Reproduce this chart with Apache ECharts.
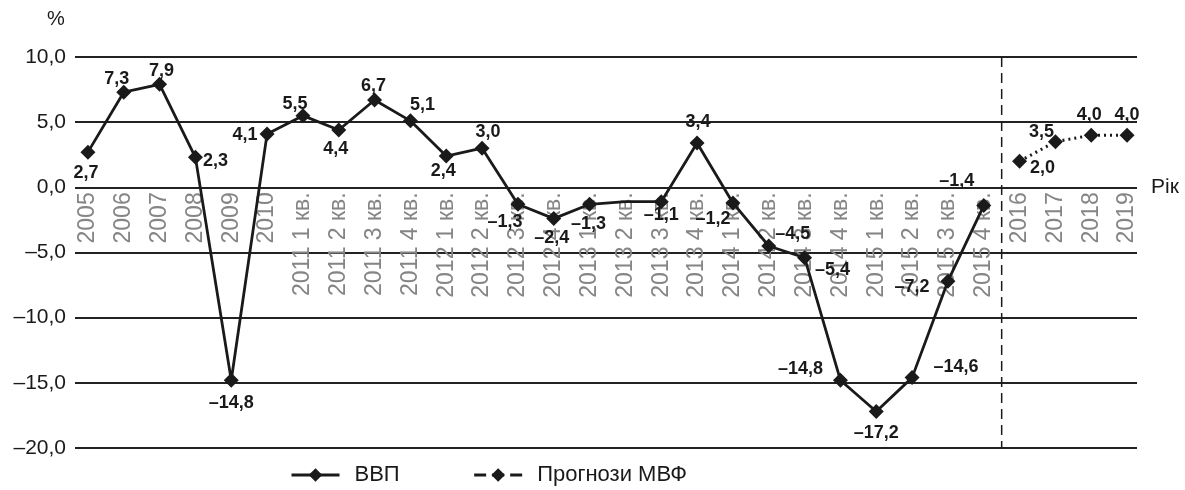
<!DOCTYPE html>
<html><head><meta charset="utf-8">
<script src="https://cdn.jsdelivr.net/npm/echarts@6/dist/echarts.min.js"></script>
<style>html,body{margin:0;padding:0;background:#fff}#c{width:1185px;height:490px}</style>
</head><body><div id="c"></div>
<script>
// ---- data ----
const categories = ['2005','2006','2007','2008','2009','2010',
  '2011 1 кв.','2011 2 кв.','2011 3 кв.','2011 4 кв.',
  '2012 1 кв.','2012 2 кв.','2012 3 кв.','2012 4 кв.',
  '2013 1 кв.','2013 2 кв.','2013 3 кв.','2013 4 кв.',
  '2014 1 кв.','2014 2 кв.','2014 3 кв.','2014 4 кв.',
  '2015 1 кв.','2015 2 кв.','2015 3 кв.','2015 4 кв.',
  '2016','2017','2018','2019'];
const gdp = [2.7,7.3,7.9,2.3,-14.8,4.1,5.5,4.4,6.7,5.1,2.4,3.0,-1.3,-2.4,-1.3,-1.1,-1.1,3.4,-1.2,-4.5,-5.4,-14.8,-17.2,-14.6,-7.2,-1.4];
const imf = [2.0,3.5,4.0,4.0];
const yMin = -20, yMax = 10, yStep = 5;
const seriesNames = ['ВВП','Прогнози МВФ'];

// ---- layout (label offsets relative to marker centre) ----
const gdpLabelOffset = [[-2,21],[-7,-13],[2,-13],[20,4],[0,23],[-22,1],[-8,-12],[-3,19],[-1,-14],[12,-16],
  [-3,15],[6,-16],[-13,18],[-2,19],[-1,20],[-6,10],[0,13],[1,-21],[-20,16],[24,-12],
  [28,12],[-40,-11],[0,22],[44,-11],[-36,6],[-27,-25]];
const imfLabelOffset = [[23,7],[-14,-10],[-2,-20],[0,-20]];
const hiddenMarker = [15];

const fmt = v => v.toFixed(1).replace('.', ',').replace('-', '–');
const FONT = 'Liberation Sans, Arial, sans-serif';
const INK = '#1a1a1a';

const gdpData = categories.map((c, i) => {
  if (i >= gdp.length) return null;
  const item = { value: gdp[i], label: { offset: gdpLabelOffset[i] } };
  if (hiddenMarker.includes(i)) item.symbol = 'none';
  return item;
});
const imfData = categories.map((c, i) => {
  const j = i - gdp.length;
  if (j < 0) return null;
  return { value: imf[j], label: { offset: imfLabelOffset[j] } };
});

const labelStyle = {
  show: true, position: 'inside', formatter: p => fmt(p.value),
  fontFamily: FONT, fontSize: 18, fontWeight: 'bold', color: INK
};

const chart = echarts.init(document.getElementById('c'), null, { renderer: 'canvas' });
chart.setOption({
  animation: false,
  backgroundColor: '#fff',
  grid: [
    { left: 75, right: 48, top: 57, bottom: 42, outerBoundsMode: 'none', containLabel: false },
    { left: 70, right: 40, top: 57, bottom: 42, outerBoundsMode: 'none', containLabel: false }
  ],
  xAxis: [
    { gridIndex: 0, type: 'category', data: categories, show: false },
    { gridIndex: 1, type: 'category', data: categories, boundaryGap: true, position: 'bottom',
      axisLine: { show: false, onZero: false }, axisTick: { show: false },
      axisLabel: { rotate: 90, interval: 0, color: '#858585', fontSize: 23, fontFamily: FONT, margin: 5 },
      name: 'Рік', nameLocation: 'end', nameGap: 6,
      nameTextStyle: { fontSize: 21, color: INK, fontFamily: FONT, verticalAlign: 'middle' } }
  ],
  yAxis: [
    { gridIndex: 0, type: 'value', min: yMin, max: yMax, interval: yStep,
      axisLine: { show: false }, axisTick: { show: false },
      axisLabel: { fontSize: 21, color: INK, fontFamily: FONT, margin: 9, formatter: v => fmt(v) },
      splitLine: { lineStyle: { color: '#222', width: 2 } } },
    { gridIndex: 1, type: 'value', min: yMin, max: yMax, interval: yStep,
      axisLine: { show: false }, axisTick: { show: false }, axisLabel: { show: false }, splitLine: { show: false } }
  ],
  legend: {
    left: 285, top: 459, itemWidth: 48, itemHeight: 17, itemGap: 73,
    textStyle: { fontSize: 22, color: INK, fontFamily: FONT, padding: [0, 0, 0, 10] },
    data: [
      { name: seriesNames[0], lineStyle: { width: 3 } },
      { name: seriesNames[1], lineStyle: { type: 'dashed', width: 3 } }
    ]
  },
  series: [
    { name: seriesNames[0], type: 'line', xAxisIndex: 1, yAxisIndex: 1, data: gdpData,
      symbol: 'diamond', symbolSize: 15, color: INK,
      lineStyle: { color: INK, width: 2.8 }, itemStyle: { color: INK },
      label: labelStyle, z: 3 },
    { name: seriesNames[1], type: 'line', xAxisIndex: 1, yAxisIndex: 1, data: imfData,
      symbol: 'diamond', symbolSize: 15, color: INK,
      lineStyle: { color: INK, width: 3, type: [2, 4] }, itemStyle: { color: INK },
      label: labelStyle, z: 3 }
  ]
});

// move the category axis up to the zero line, and draw the divider, via the axes' own scales
const y0 = chart.convertToPixel({ yAxisIndex: 1 }, 0);
const yt = chart.convertToPixel({ yAxisIndex: 1 }, yMax);
const yb = chart.convertToPixel({ yAxisIndex: 1 }, yMin);
const xa = chart.convertToPixel({ xAxisIndex: 1 }, categories[gdp.length - 1]);
const xb = chart.convertToPixel({ xAxisIndex: 1 }, categories[gdp.length]);
chart.setOption({
  xAxis: [{}, { offset: y0 - yb }],
  graphic: [
    { type: 'line', z: 1, shape: { x1: (xa + xb) / 2, y1: yt, x2: (xa + xb) / 2, y2: yb },
      style: { stroke: INK, lineWidth: 1.5, lineDash: [10, 6] } },
    { type: 'text', left: 47, top: 9,
      style: { text: '%', fontSize: 20, fill: INK, fontFamily: FONT } }
  ]
});
</script></body></html>
